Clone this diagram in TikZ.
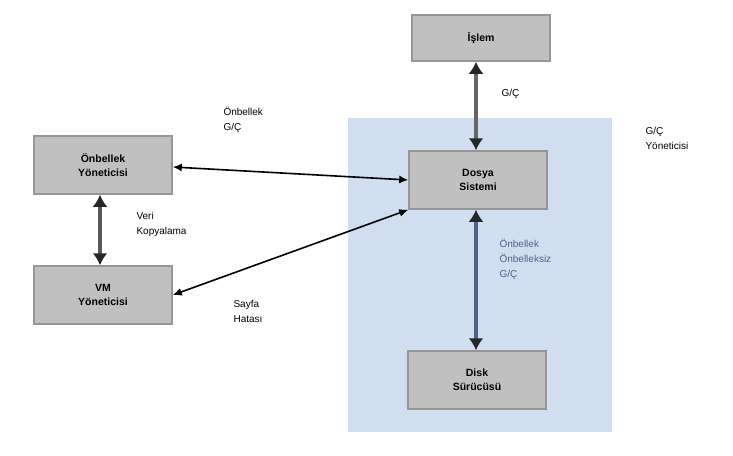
\documentclass[tikz,border=0pt]{standalone}
\usepackage{fontspec}
\setmainfont{Liberation Sans}
\usepackage{xcolor}
\usepackage{tikz}
\usetikzlibrary{arrows.meta}

\definecolor{kutugri}{RGB}{192,192,192}
\definecolor{kenargri}{RGB}{150,150,150}
\definecolor{bolgemavi}{RGB}{208,222,240}
\definecolor{okmavi}{RGB}{80,98,135}

\tikzset{
  kutu/.style={draw=kenargri, fill=kutugri, line width=1.5pt, minimum width=138pt, minimum height=58pt, align=center, font=\bfseries\fontsize{10.5}{14}\selectfont},
  etiket/.style={align=left, anchor=north west, font=\fontsize{10}{15}\selectfont},
  kalin/.style={{Latex[length=12pt,width=15pt,color=black!85]}-{Latex[length=12pt,width=15pt,color=black!85]}, line width=4.5pt},
  ince/.style={{Latex[length=9pt,width=8pt]}-{Latex[length=9pt,width=8pt]}, line width=1.6pt}
}

\begin{document}
\begin{tikzpicture}[x=1pt, y=-1pt]
    \useasboundingbox (0,0) rectangle (733,455);

    % G/Ç yöneticisi bölgesi
    \fill[bolgemavi] (348,118) rectangle (612,432);
    \node[etiket] (gcyon) at (642,124) {G/Ç\\Yöneticisi};

    % Kutular
    \node[kutu, minimum height=46pt] (islem) at (481,38) {İşlem};
    \node[kutu] (dosya) at (478,180) {Dosya\\Sistemi};
    \node[kutu] (disk) at (477,380) {Disk\\Sürücüsü};
    \node[kutu] (onbellek) at (103,165) {Önbellek\\Yöneticisi};
    \node[kutu] (vm) at (103,295) {VM\\Yöneticisi};

    % Bağlantılar
    \draw[kalin, draw=gray!80!black] (islem.south -| 476,0) -- (dosya.north -| 476,0);
    \draw[kalin, draw=okmavi] (dosya.south -| 476,0) -- (disk.north -| 476,0);
    \draw[kalin, draw=gray!70!black] (onbellek.south -| 100,0) -- (vm.north -| 100,0);
    \draw[ince] ([yshift=-2pt]onbellek.east) -- ([yshift=0pt]dosya.west);
    \draw[ince] (vm.east) -- (dosya.south west);

    % Etiketler
    \node[etiket] (gc) at (498,86) {G/Ç};
    \node[etiket] (onbgc) at (220,104) {Önbellek\\G/Ç};
    \node[etiket] (kopya) at (133,209) {Veri\\Kopyalama};
    \node[etiket] (sayfa) at (230,297) {Sayfa\\Hatası};
    \node[etiket, text=okmavi] (onbsiz) at (496,236) {Önbellek\\Önbelleksiz\\G/Ç};
\end{tikzpicture}
\end{document}
